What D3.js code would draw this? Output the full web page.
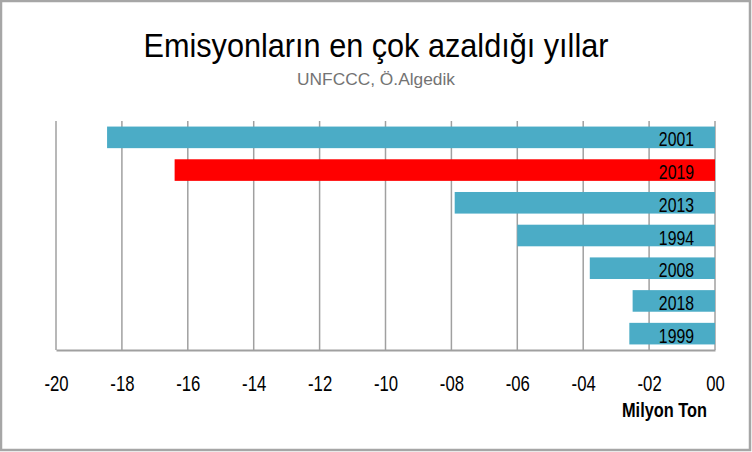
<!DOCTYPE html>
<html>
<head>
<meta charset="utf-8">
<script src="https://cdn.jsdelivr.net/npm/d3@7"></script>
<style>
  body { margin: 0; background: #fff; }
  svg { display: block; }
</style>
</head>
<body>
<svg id="chart" width="752" height="452"></svg>
<script>
const years = ["2001", "2019", "2013", "1994", "2008", "2018", "1999"];
const values = [-18.45, -16.4, -7.9, -6.0, -3.8, -2.5, -2.6];
const highlightYear = "2019";
const xTicks = [-20, -18, -16, -14, -12, -10, -8, -6, -4, -2, 0];

const fontFamily = "'Liberation Sans', Arial, sans-serif";

const margin = {top: 121, bottom: 102, left: 56, right: 37};
const width = 752 - margin.left - margin.right;
const height = 452 - margin.top - margin.bottom;

const canvas = d3.select("#chart");

// squeeze text horizontally, like a narrow font
function condense(sel, factor) {
	sel.each(function() {
		const w = this.getComputedTextLength();
		d3.select(this)
			.attr("textLength", w * factor)
			.attr("lengthAdjust", "spacingAndGlyphs");
	});
}

// outer frame
canvas.append("rect")
	.attr("x", 1).attr("y", 1)
	.attr("width", 749).attr("height", 449)
	.attr("fill", "#fff")
	.attr("stroke", "#a6a6a6")
	.attr("stroke-width", 2.5);

canvas.append("text")
	.attr("x", 376).attr("y", 57)
	.attr("text-anchor", "middle")
	.style("font-family", fontFamily)
	.style("font-size", "34px")
	.style("fill", "#000")
	.text("Emisyonların en çok azaldığı yıllar")
	.attr("textLength", 465)
	.attr("lengthAdjust", "spacingAndGlyphs");

canvas.append("text")
	.attr("x", 376).attr("y", 85)
	.attr("text-anchor", "middle")
	.style("font-family", fontFamily)
	.style("font-size", "17px")
	.style("fill", "#737373")
	.text("UNFCCC, Ö.Algedik")
	.attr("textLength", 158)
	.attr("lengthAdjust", "spacingAndGlyphs");

const xScale = d3.scaleLinear()
	.domain([-20, 0])
	.range([margin.left, margin.left + width]);

const yScale = d3.scaleBand()
	.domain(years)
	.range([margin.top, margin.top + height])
	.paddingInner(0.34)
	.paddingOuter(0.17);

// gridlines
canvas.append("g")
	.selectAll("line")
	.data(xTicks)
	.enter()
	.append("line")
	.attr("x1", d => xScale(d))
	.attr("x2", d => xScale(d))
	.attr("y1", margin.top)
	.attr("y2", margin.top + height)
	.attr("stroke", "#a0a0a0")
	.attr("stroke-width", 1.5);

// bars
canvas.append("g")
	.selectAll("rect")
	.data(years)
	.enter()
	.append("rect")
	.attr("x", (d, i) => xScale(values[i]))
	.attr("y", d => yScale(d))
	.attr("width", (d, i) => xScale(0) - xScale(values[i]))
	.attr("height", yScale.bandwidth())
	.attr("fill", d => d === highlightYear ? "#ff0000" : "#4bacc6");

// year labels inside bars
const yearLabels = canvas.append("g")
	.selectAll("text")
	.data(years)
	.enter()
	.append("text")
	.attr("x", xScale(0) - 21)
	.attr("y", d => yScale(d) + yScale.bandwidth() / 2 + 9)
	.attr("text-anchor", "end")
	.style("font-family", fontFamily)
	.style("font-size", "20px")
	.style("fill", "#000")
	.text(d => d);
condense(yearLabels, 0.79);

// x axis
const xAxis = d3.axisBottom(xScale)
	.tickValues(xTicks)
	.tickSize(0)
	.tickPadding(25)
	.tickFormat(d => (d < 0 ? "-" : "") + d3.format("02d")(Math.abs(d)));

const axisG = canvas.append("g")
	.attr("transform", "translate(0, " + (margin.top + height) + ")")
	.call(xAxis);

axisG.select(".domain")
	.attr("stroke", "#a0a0a0")
	.attr("stroke-width", 2);

const tickText = axisG.selectAll("text")
	.style("font-family", fontFamily)
	.style("font-size", "22px")
	.style("fill", "#000");
condense(tickText, 0.76);

canvas.append("text")
	.attr("x", 707).attr("y", 417)
	.attr("text-anchor", "end")
	.style("font-family", fontFamily)
	.style("font-size", "19.5px")
	.style("font-weight", "bold")
	.style("fill", "#000")
	.text("Milyon Ton")
	.attr("textLength", 85)
	.attr("lengthAdjust", "spacingAndGlyphs");
</script>
</body>
</html>
